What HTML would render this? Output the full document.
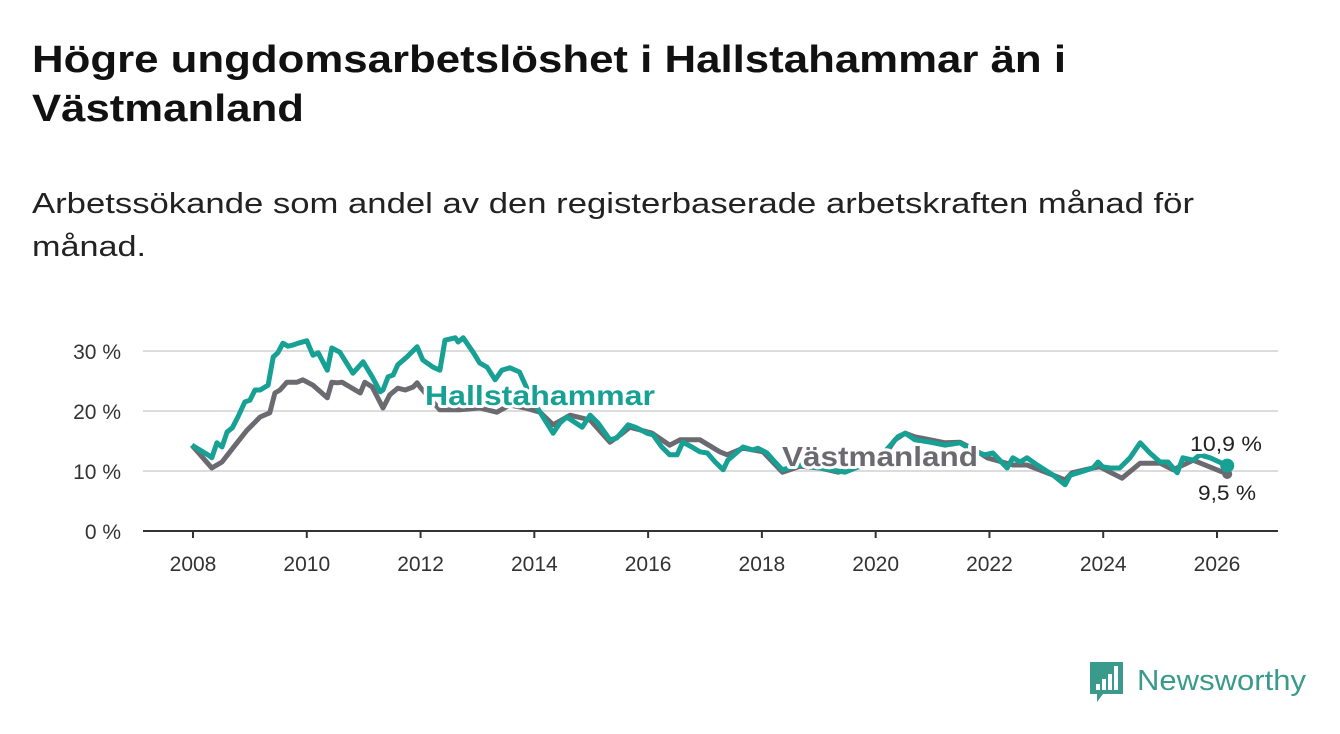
<!DOCTYPE html>
<html><head><meta charset="utf-8"><style>
body{margin:0;background:#fff;}
svg{display:block;font-family:"Liberation Sans",sans-serif;}
</style></head><body>
<svg id="chart" width="1340" height="734" viewBox="0 0 1340 734" xmlns="http://www.w3.org/2000/svg">
<text x="32" y="72" font-size="38" font-weight="bold" fill="#111" textLength="1034" lengthAdjust="spacingAndGlyphs">Högre ungdomsarbetslöshet i Hallstahammar än i</text>
<text x="32" y="121" font-size="38" font-weight="bold" fill="#111" textLength="272" lengthAdjust="spacingAndGlyphs">Västmanland</text>
<text x="32" y="213" font-size="29" fill="#222" textLength="1162" lengthAdjust="spacingAndGlyphs">Arbetssökande som andel av den registerbaserade arbetskraften månad för</text>
<text x="32" y="256" font-size="29" fill="#222" textLength="114" lengthAdjust="spacingAndGlyphs">månad.</text>
<g id="grid"></g><g id="axes"></g><g id="lines"></g><g id="labels"></g>
<g>
<path d="M1090 662 h33 v32 h-20 l-6 8 v-8 h-7 z" fill="#3a9a8c"/>
<rect x="1096" y="684" width="4" height="6" fill="#fff"/><rect x="1102" y="679" width="4" height="11" fill="#fff"/><rect x="1108" y="674" width="4" height="16" fill="#fff"/><rect x="1114" y="666" width="4" height="24" fill="#fff"/>
<text x="1137" y="690" font-size="29" fill="#3a9a8c" textLength="169" lengthAdjust="spacingAndGlyphs">Newsworthy</text>
</g>
</svg>
<script>
const yTicks=[0,10,20,30];
const yTickLabels=["0 %","10 %","20 %","30 %"];
const xTicks=[2008,2010,2012,2014,2016,2018,2020,2022,2024,2026];
const hallYears=[2007.98,2008.26,2008.33,2008.42,2008.51,2008.60,2008.69,2008.79,2008.91,2009.00,2009.09,2009.18,2009.32,2009.41,2009.49,2009.58,2009.67,2009.76,2009.85,2010.00,2010.11,2010.20,2010.36,2010.44,2010.58,2010.81,2010.99,2011.15,2011.29,2011.34,2011.43,2011.52,2011.60,2011.76,2011.94,2012.04,2012.22,2012.34,2012.43,2012.61,2012.66,2012.75,2012.93,2013.04,2013.17,2013.31,2013.43,2013.57,2013.74,2013.80,2013.92,2014.10,2014.33,2014.45,2014.57,2014.84,2014.98,2015.12,2015.33,2015.45,2015.65,2015.80,2015.98,2016.09,2016.24,2016.38,2016.51,2016.61,2016.77,2016.91,2017.04,2017.18,2017.32,2017.40,2017.67,2017.84,2017.93,2018.09,2018.20,2018.36,2018.67,2019.02,2019.46,2019.64,2019.90,2020.16,2020.39,2020.52,2020.69,2020.96,2021.22,2021.48,2021.75,2021.92,2022.06,2022.31,2022.41,2022.54,2022.66,2022.84,2023.12,2023.33,2023.42,2023.59,2023.82,2023.91,2023.99,2024.12,2024.29,2024.47,2024.65,2024.82,2025.00,2025.14,2025.30,2025.40,2025.58,2025.70,2025.88,2026.18];
const hallValues=[14.3,12.7,12.2,14.7,14.0,16.5,17.2,19.0,21.5,21.8,23.5,23.5,24.3,29.0,29.7,31.3,30.8,31.0,31.3,31.7,29.3,29.7,26.8,30.5,29.8,26.3,28.2,25.7,23.2,23.5,25.7,26.0,27.7,29.0,30.7,28.5,27.3,26.8,31.8,32.2,31.5,32.2,29.7,28.0,27.3,25.2,26.8,27.2,26.5,25.2,22.7,19.8,16.3,18.0,19.0,17.3,19.3,18.0,15.2,15.5,17.7,17.2,16.3,16.0,14.0,12.7,12.7,14.8,14.0,13.2,13.0,11.5,10.2,11.8,14.0,13.5,13.8,13.0,11.8,10.2,11.0,10.5,9.8,10.5,11.8,13.2,15.7,16.3,15.2,14.8,14.3,14.7,13.2,12.7,13.0,10.5,12.2,11.5,12.2,11.0,9.3,7.7,9.3,9.8,10.5,11.5,10.7,10.5,10.5,12.2,14.7,13.0,11.5,11.5,9.7,12.2,11.8,12.7,12.2,10.9];
const vastYears=[2007.98,2008.33,2008.51,2008.70,2008.95,2009.18,2009.35,2009.44,2009.53,2009.65,2009.83,2009.93,2010.11,2010.36,2010.44,2010.53,2010.62,2010.94,2011.02,2011.15,2011.34,2011.46,2011.60,2011.73,2011.87,2011.94,2011.99,2012.34,2012.69,2013.04,2013.34,2013.57,2013.84,2014.10,2014.33,2014.63,2014.98,2015.33,2015.51,2015.68,2016.07,2016.38,2016.56,2016.91,2017.26,2017.39,2017.67,2018.02,2018.36,2018.67,2019.02,2019.34,2019.64,2019.90,2020.16,2020.34,2020.52,2020.69,2020.96,2021.22,2021.48,2021.75,2021.96,2022.41,2022.66,2023.12,2023.33,2023.45,2023.82,2023.94,2024.12,2024.33,2024.65,2025.00,2025.23,2025.58,2026.00,2026.18];
const vastValues=[14.3,10.5,11.5,13.8,16.8,19.0,19.7,23.0,23.5,24.8,24.8,25.2,24.3,22.2,24.8,24.7,24.8,23.0,24.8,24.0,20.5,22.7,23.8,23.5,24.0,24.7,24.0,20.2,20.2,20.5,19.8,21.0,20.5,19.8,17.7,19.3,18.5,14.8,16.0,17.3,16.3,14.3,15.2,15.2,13.2,12.7,13.8,13.2,9.8,10.8,10.5,9.8,10.5,11.3,12.7,15.2,16.3,15.7,15.2,14.7,14.8,13.5,12.2,11.0,11.0,9.3,8.5,9.7,10.5,10.7,9.8,8.8,11.3,11.3,10.2,11.8,10.2,9.5];
const NS="http://www.w3.org/2000/svg";
const xS=y=>193+(y-2008)*(1024/18);
const yS=v=>531-v*6;
function mk(tag,attrs,parent){const e=document.createElementNS(NS,tag);for(const k in attrs)e.setAttribute(k,attrs[k]);parent.appendChild(e);return e;}
const grid=document.getElementById('grid'),axes=document.getElementById('axes'),lines=document.getElementById('lines'),labels=document.getElementById('labels');
yTicks.forEach((t,i)=>{
  if(t>0){const g=mk('line',{x1:143,x2:1278,y1:yS(t),y2:yS(t),stroke:'#dcdcdc','stroke-width':2},grid);
  
  }
  const l=mk('text',{x:121,y:yS(t)+8,'text-anchor':'end','font-size':21,fill:'#333'},axes);
  
  
  l.textContent=yTickLabels[i];
});
const ax=mk('line',{x1:143,x2:1278,y1:531,y2:531,stroke:'#333','stroke-width':2},axes);


xTicks.forEach(t=>{
  const tk=mk('line',{x1:xS(t),x2:xS(t),y1:531,y2:538,stroke:'#333','stroke-width':2},axes);
  
  
  const l=mk('text',{x:xS(t),y:571,'text-anchor':'middle','font-size':21,fill:'#333'},axes);
  
  
  l.textContent=t;
});
function path(xs,vs){return xs.map((x,i)=>(i?'L':'M')+xS(x).toFixed(1)+' '+yS(vs[i]).toFixed(1)).join(' ');}
const gv=mk('path',{d:path(vastYears,vastValues),fill:'none',stroke:'#6b6a70','stroke-width':5,'stroke-linejoin':'round'},lines);


const hv=mk('path',{d:path(hallYears,hallValues),fill:'none',stroke:'#17a094','stroke-width':5,'stroke-linejoin':'round'},lines);


const ng=vastYears.length-1,nh=hallYears.length-1;
const d1=mk('circle',{cx:xS(vastYears[ng]),cy:yS(vastValues[ng]),r:5,fill:'#6b6a70'},lines);


const d2=mk('circle',{cx:xS(hallYears[nh]),cy:yS(hallValues[nh]),r:7,fill:'#17a094'},lines);


function lab(txt,x,y,size,fill,weight,name,len){
  const a={x:x,y:y,'font-size':size,fill:fill,'font-weight':weight,stroke:'#fff','stroke-width':6,'paint-order':'stroke','stroke-linejoin':'round'};
  if(len){a.textLength=len;a.lengthAdjust='spacingAndGlyphs';}
  const t=mk('text',a,labels);
  
  
  t.textContent=txt;return t;
}
lab('Hallstahammar',425,405,28,'#17a094','bold','hallstahammar-label',230);
lab('Västmanland',782,466,28,'#6b6a70','bold','vastmanland-label',196);
lab(hallValues[nh].toFixed(1).replace('.',',')+' %',1190,451,21,'#222','normal','hallstahammar-value-label',72);
lab(vastValues[ng].toFixed(1).replace('.',',')+' %',1198,500,21,'#222','normal','vastmanland-value-label',58);
</script>
</body></html>
